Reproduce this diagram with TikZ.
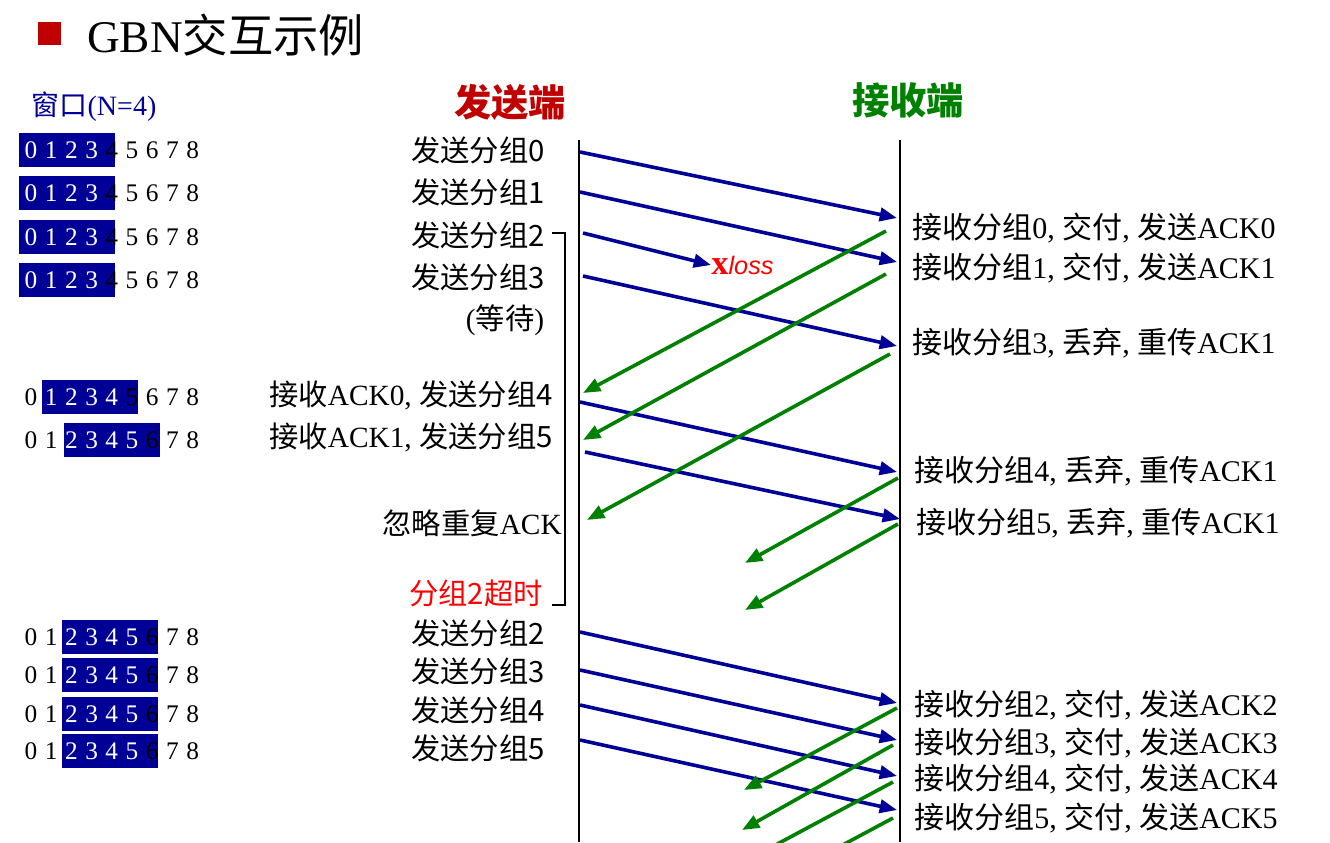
\documentclass[tikz,border=0pt]{standalone}
\usepackage{fontspec}
\setmainfont{Liberation Serif}
\newfontfamily\cjk{Noto Sans CJK SC}
\usetikzlibrary{arrows.meta}
\definecolor{navy}{RGB}{0,0,150}
\definecolor{gr}{RGB}{0,128,0}
\definecolor{dred}{RGB}{192,0,0}
\tikzset{
 snd/.style={draw=navy,line width=2.7pt,-{Triangle[length=13pt,width=10pt]}},
 ack/.style={draw=gr,line width=2.7pt,-{Triangle[length=13pt,width=10pt]}},
 lbl/.style={font=\fontsize{22}{24}\selectfont, inner sep=0pt},
 rlbl/.style={font=\fontsize{22.5}{24}\selectfont, inner sep=0pt},
 dig/.style={font=\fontsize{19}{21}\selectfont, inner sep=0pt},
}
\newcommand{\winrow}[3]{%
  \foreach \i in {0,...,8}{
    \pgfmathtruncatemacro{\inw}{(\i>=#2)&&(\i<=#3)}
    \ifnum\inw=1 \node[dig,text=white] (d#1x\i) at ({31+20.2*\i},#1) {\i};
    \else \node[dig] (d#1x\i) at ({31+20.2*\i},#1) {\i};\fi}}
\begin{document}
\begin{tikzpicture}[x=0.75pt,y=-0.75pt]
\useasboundingbox (0,0) rectangle (1330,842);
\begin{scope}
\clip (0,0) rectangle (1330,842);
% title
\fill[dred] (38,22) rectangle (61,45);
\node[anchor=west,inner sep=0pt,font=\fontsize{34}{36}\selectfont] (title) at (87,35) {GBN{\cjk 交互示例}};
\node[text=navy,inner sep=0pt,font=\fontsize{21}{23}\selectfont] (win) at (94,107) {{\cjk 窗口}(N=4)};
\node[text=dred,font=\cjk\bfseries\fontsize{28}{30}\selectfont] (snd) at (510,102) {发送端};
\node[text=gr,font=\cjk\bfseries\fontsize{28}{30}\selectfont] (rcv) at (908,100) {接收端};
% windows
\foreach \y/\a/\b in {150/19/115,193/19/115,237/19/115,280/19/115,397/42/138,440/64/160,637/62/158,675/62/158,714/62/158,751/62/158}
  \fill[navy] (\a,\y-17) rectangle (\b,\y+17);
\foreach \y in {150,193,237,280}{\winrow{\y}{0}{3}}
\winrow{397}{1}{4}
\winrow{440}{2}{5}
\foreach \y in {637,675,714,751}{\winrow{\y}{2}{5}}
% timelines
\coordinate (s0) at (579,140); \coordinate (s1) at (579,842);
\coordinate (r0) at (900,140); \coordinate (r1) at (900,842);
\draw[line width=1pt] (s0) -- (s1);
\draw[line width=1pt] (r0) -- (r1);
% sender labels
\node[lbl,anchor=east] (l0) at (545,150) {\cjk 发送分组0};
\node[lbl,anchor=east] (l1) at (545,192) {\cjk 发送分组1};
\node[lbl,anchor=east] (l2) at (545,235) {\cjk 发送分组2};
\node[lbl,anchor=east] (l3) at (545,277) {\cjk 发送分组3};
\node[lbl] (lw) at (505,320) {({\cjk 等待})};
\node[lbl,anchor=east] (l4) at (553,395) {{\cjk 接收}ACK0, {\cjk 发送分组4}};
\node[lbl,anchor=east] (l5) at (553,437) {{\cjk 接收}ACK1, {\cjk 发送分组5}};
\node[lbl,anchor=east] (l6) at (562,523) {{\cjk 忽略重复}ACK};
\node[lbl,anchor=east,text=red] (l7) at (543,593) {\cjk 分组2超时};
\node[lbl,anchor=east] (l8) at (545,633) {\cjk 发送分组2};
\node[lbl,anchor=east] (l9) at (545,671) {\cjk 发送分组3};
\node[lbl,anchor=east] (l10) at (545,710) {\cjk 发送分组4};
\node[lbl,anchor=east] (l11) at (545,748) {\cjk 发送分组5};
% receiver labels
\node[rlbl,anchor=west] (q0) at (912,228) {{\cjk 接收分组}0, {\cjk 交付}, {\cjk 发送}ACK0};
\node[rlbl,anchor=west] (q1) at (912,268) {{\cjk 接收分组}1, {\cjk 交付}, {\cjk 发送}ACK1};
\node[rlbl,anchor=west] (q2) at (912,343) {{\cjk 接收分组}3, {\cjk 丢弃}, {\cjk 重传}ACK1};
\node[rlbl,anchor=west] (q3) at (914,471) {{\cjk 接收分组}4, {\cjk 丢弃}, {\cjk 重传}ACK1};
\node[rlbl,anchor=west] (q4) at (916,523) {{\cjk 接收分组}5, {\cjk 丢弃}, {\cjk 重传}ACK1};
\node[rlbl,anchor=west] (q5) at (914,705) {{\cjk 接收分组}2, {\cjk 交付}, {\cjk 发送}ACK2};
\node[rlbl,anchor=west] (q6) at (914,743) {{\cjk 接收分组}3, {\cjk 交付}, {\cjk 发送}ACK3};
\node[rlbl,anchor=west] (q7) at (914,779) {{\cjk 接收分组}4, {\cjk 交付}, {\cjk 发送}ACK4};
\node[rlbl,anchor=west] (q8) at (914,818) {{\cjk 接收分组}5, {\cjk 交付}, {\cjk 发送}ACK5};
% bracket
\coordinate (b0) at (552,233); \coordinate (b1) at (565,233);
\coordinate (b2) at (565,605); \coordinate (b3) at (552,605);
\draw[line width=2.2pt] (b0) -- (b1) -- (b2) -- (b3);
% loss
\node[inner sep=0pt,anchor=west] (loss) at (711,265) {\textcolor{red}{\fontsize{26}{28}\selectfont\bfseries x}\textcolor{red}{\fontsize{19}{21}\selectfont\itshape\fontspec{Liberation Sans}loss}};
% data arrows
\foreach \n/\xa/\ya/\xb/\yb in {1/580/152/897/218, 2/580/192/897/262, 4/583/276/897/346, 5/580/402/897/472, 6/585/452/900/519, 7/580/632/897/703, 8/580/670/897/740, 9/580/705/897/776, 10/580/740/897/810}{
  \coordinate (da\n) at (\xa,\ya); \coordinate (db\n) at (\xb,\yb);
  \draw[snd] (da\n) -- (db\n);}
\coordinate (da3) at (583,233);
\draw[snd] (da3) -- (loss.west);
% acks
\foreach \n/\xa/\ya/\xb/\yb in {1/886/231/583/393, 2/886/274/583/440, 3/890/354/587/520, 4/898/478/745/563, 5/898/524/745/610, 6/897/708/744/790, 7/893/745/742/830, 8/893/782/740/864, 9/893/818/740/900}{
  \coordinate (aa\n) at (\xa,\ya); \coordinate (ab\n) at (\xb,\yb);
  \draw[ack] (aa\n) -- (ab\n);}
\end{scope}
\end{tikzpicture}
\end{document}
